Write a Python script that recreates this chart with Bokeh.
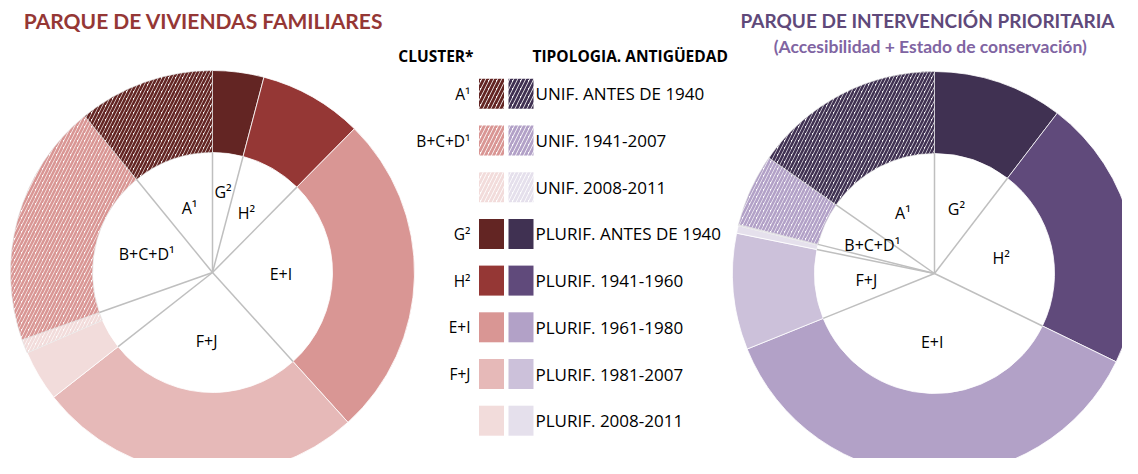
import math
from bokeh.plotting import figure
from bokeh.models import Range1d, ColumnDataSource
from bokeh.embed import file_html
from bokeh.resources import INLINE
from bokeh.core.properties import value

# ---------------- data ----------------
# ring order: clockwise from 12 o'clock
categories = ["PLURIF. ANTES DE 1940", "PLURIF. 1941-1960", "PLURIF. 1961-1980",
              "PLURIF. 1981-2007", "PLURIF. 2008-2011", "UNIF. 2008-2011",
              "UNIF. 1941-2007", "UNIF. ANTES DE 1940"]
parque_viviendas = [4.1, 8.3, 25.9, 26.1, 4.1, 1.1, 19.5, 10.9]      # %
parque_prioritario = [10.4, 21.8, 36.7, 9.3, 0.6, 0.1, 5.8, 15.3]    # %
cluster_of = ["G²", "H²", "E+I", "F+J", "", "", "B+C+D¹", "A¹"]

legend_tipologia = ["UNIF. ANTES  DE 1940", "UNIF. 1941-2007", "UNIF. 2008-2011",
                    "PLURIF. ANTES  DE 1940", "PLURIF. 1941-1960", "PLURIF. 1961-1980",
                    "PLURIF. 1981-2007", "PLURIF. 2008-2011"]
legend_category = ["UNIF. ANTES DE 1940", "UNIF. 1941-2007", "UNIF. 2008-2011",
                   "PLURIF. ANTES DE 1940", "PLURIF. 1941-1960", "PLURIF. 1961-1980",
                   "PLURIF. 1981-2007", "PLURIF. 2008-2011"]
legend_cluster = ["A¹", "B+C+D¹", "", "G²", "H²", "E+I", "F+J", ""]

title_left = "PARQUE DE VIVIENDAS FAMILIARES"
title_right = "PARQUE DE INTERVENCIÓN PRIORITARIA"
subtitle_right = "(Accesibilidad  + Estado  de conservación)"

# ---------------- style ----------------
reds = {"PLURIF. ANTES DE 1940": "#632523", "PLURIF. 1941-1960": "#953735",
        "PLURIF. 1961-1980": "#D99694", "PLURIF. 1981-2007": "#E6B9B8",
        "PLURIF. 2008-2011": "#F2DCDB", "UNIF. ANTES DE 1940": "#632523",
        "UNIF. 1941-2007": "#D99694", "UNIF. 2008-2011": "#F2DCDB"}
purples = {"PLURIF. ANTES DE 1940": "#403152", "PLURIF. 1941-1960": "#604A7B",
           "PLURIF. 1961-1980": "#B2A1C7", "PLURIF. 1981-2007": "#CCC1DA",
           "PLURIF. 2008-2011": "#E5E0EC", "UNIF. ANTES DE 1940": "#403152",
           "UNIF. 1941-2007": "#B2A1C7", "UNIF. 2008-2011": "#E5E0EC"}

W, H = 1122, 458
PAGE_H = 474
R_OUT, R_IN = 202, 120
FONT = "Open Sans"
TFONT = "Lato"

p = figure(width=W, height=H, x_range=Range1d(0, W), y_range=Range1d(PAGE_H - H, PAGE_H),
           output_backend="svg", toolbar_location=None, min_border=0)
p.axis.visible = False
p.grid.visible = False
p.outline_line_color = None
p.background_fill_color = "white"


def Y(s):  # screen-like y (from top) to data y
    return PAGE_H - s


def donut(cx, cy, vals, palette, label_r):
    total = float(sum(vals))
    cum = [0.0]
    for v in vals:
        cum.append(cum[-1] + v / total * 360.0)
    solid = dict(x=[], y=[], s=[], e=[], c=[])
    hatch = dict(x=[], y=[], s=[], e=[], c=[])
    for i, cat in enumerate(categories):
        d = hatch if cat.startswith("UNIF") else solid
        d["x"].append(cx); d["y"].append(cy)
        d["s"].append(math.radians(90 - cum[i]))
        d["e"].append(math.radians(90 - cum[i + 1]))
        d["c"].append(palette[cat])
    p.annular_wedge(x="x", y="y", inner_radius=R_IN, outer_radius=R_OUT,
                    start_angle="s", end_angle="e", direction="clock",
                    fill_color="c", line_color="white", line_width=0.8,
                    source=ColumnDataSource(solid))
    p.annular_wedge(x="x", y="y", inner_radius=R_IN, outer_radius=R_OUT,
                    start_angle="s", end_angle="e", direction="clock",
                    fill_color="white", hatch_color="c", hatch_pattern="/",
                    hatch_scale=7, hatch_weight=2.6,
                    line_color="#E0E0E0", line_width=0.6,
                    source=ColumnDataSource(hatch))
    # cluster division lines
    bounds = []
    n = len(categories)
    for i in range(n):
        prev = cluster_of[i - 1]
        if cluster_of[i] != prev or cluster_of[i] == "":
            if not (cluster_of[i] == "" and prev == ""):
                bounds.append(cum[i])
    x1 = [cx + R_IN * math.sin(math.radians(b)) for b in bounds]
    y1 = [cy + R_IN * math.cos(math.radians(b)) for b in bounds]
    p.segment(x0=[cx] * len(bounds), y0=[cy] * len(bounds), x1=x1, y1=y1,
              line_color="#BFBFBF", line_width=1.5)
    # cluster labels
    spans = {}
    for i, c in enumerate(cluster_of):
        if c:
            a, b = spans.get(c, (cum[i], cum[i + 1]))
            spans[c] = (min(a, cum[i]), max(b, cum[i + 1]))
    lx, ly, lt = [], [], []
    for c, (a, b) in spans.items():
        m = math.radians((a + b) / 2)
        r = R_IN * label_r.get(c, 0.57)
        lx.append(cx + r * math.sin(m)); ly.append(cy + r * math.cos(m)); lt.append(c)
    p.text(x=lx, y=ly, text=lt, text_align="center", text_baseline="middle",
           text_font=value(FONT), text_font_size="16px", text_color="black")


donut(212, Y(272), parque_viviendas, reds, {"G²": 0.68})
donut(934, Y(273), parque_prioritario, purples, {})

# titles
p.text(x=[203], y=[Y(20)], text=[title_left], text_align="center", text_baseline="middle",
       text_font=value(TFONT), text_font_style="bold", text_font_size="21px", text_color="#953735")
p.text(x=[927], y=[Y(20)], text=[title_right], text_align="center", text_baseline="middle",
       text_font=value(TFONT), text_font_style="bold", text_font_size="19px", text_color="#5F497A")
p.text(x=[934], y=[Y(46)], text=[subtitle_right], text_align="center", text_baseline="middle",
       text_font=value(TFONT), text_font_style="bold", text_font_size="17.5px", text_color="#8064A2")

# legend headers
p.text(x=[473], y=[Y(55)], text=["CLUSTER*"], text_align="right", text_baseline="middle",
       text_font=value(FONT), text_font_style="bold", text_font_size="15.5px", text_color="black")
p.text(x=[532], y=[Y(55)], text=["TIPOLOGIA.  ANTIGÜEDAD"], text_align="left", text_baseline="middle",
       text_font=value(FONT), text_font_style="bold", text_font_size="15.5px", text_color="black")

# legend rows
row_y = [Y(93.3 + 46.7 * i) for i in range(len(legend_category))]
sw_solid = dict(x=[], y=[], c=[])
sw_hatch = dict(x=[], y=[], c=[])
for i, cat in enumerate(legend_category):
    d = sw_hatch if cat.startswith("UNIF") else sw_solid
    for xc, pal in ((491, reds), (520.5, purples)):
        d["x"].append(xc); d["y"].append(row_y[i]); d["c"].append(pal[cat])
p.rect(x="x", y="y", width=25, height=30, fill_color="c", line_color=None,
       source=ColumnDataSource(sw_solid))
p.rect(x="x", y="y", width=25, height=30, fill_color="white", line_color=None,
       hatch_color="c", hatch_pattern="/", hatch_scale=8, hatch_weight=2.8,
       source=ColumnDataSource(sw_hatch))
p.text(x=[470] * len(legend_cluster), y=row_y, text=legend_cluster, text_align="right",
       text_baseline="middle", text_font=value(FONT), text_font_size="15.5px", text_color="black")
p.text(x=[535] * len(legend_tipologia), y=row_y, text=legend_tipologia, text_align="left",
       text_baseline="middle", text_font=value(FONT), text_font_size="17px", text_color="black")

open("out.html", "w").write(file_html(p, INLINE))
